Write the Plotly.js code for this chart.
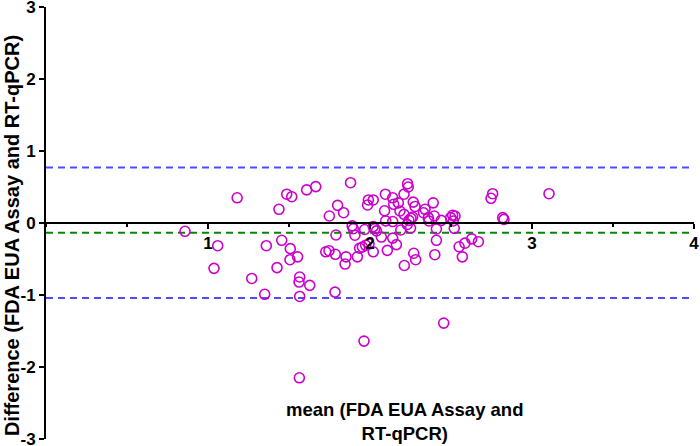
<!DOCTYPE html>
<html>
<head>
<meta charset="utf-8">
<script src="https://cdn.plot.ly/plotly-3.0.1.min.js"></script>
<style>
  html, body { margin: 0; padding: 0; background: #ffffff; }
  #chart { width: 700px; height: 446px; }
</style>
</head>
<body>
<div id="chart"></div>
<script>
// Bland-Altman agreement: mean of the two methods vs. their difference
const meanVals = [
  0.858, 1.18, 1.06, 1.037, 1.27, 1.35, 1.438, 1.486, 1.517, 1.609,
  1.665, 1.36, 1.455, 1.508, 1.506, 1.553, 1.426, 1.566, 1.562, 1.628,
  1.566, 1.784, 1.749, 1.80, 1.837, 1.88, 1.79, 1.727, 1.747, 1.786,
  1.852, 1.846, 1.89, 2.455, 1.963, 1.564, 1.907, 1.922, 1.936, 1.953,
  1.973, 1.994, 1.967, 1.985, 1.99, 2.02, 2.02, 2.03, 2.04, 2.02,
  2.07, 2.09, 2.095, 2.097, 2.107, 2.14, 2.146, 2.175, 2.14, 2.14,
  2.163, 2.185, 2.19, 2.21, 2.21, 2.232, 2.236, 2.23, 2.24, 2.253,
  2.263, 2.267, 2.278, 2.212, 2.27, 2.282, 2.33, 2.34, 2.36, 2.364,
  2.39, 2.397, 2.41, 2.44, 2.41, 2.40, 2.498, 2.51, 2.525, 2.514,
  2.52, 2.55, 2.57, 2.586, 2.628, 2.669, 2.747, 2.757, 2.819, 2.827,
  3.105, 1.897, 2.25
];
const diffVals = [
  -0.115, 0.35, -0.315, -0.63, -0.77, -0.99, 0.19, 0.40, 0.365, 0.46,
  0.505, -0.315, -0.24, -0.356, -0.51, -0.47, -0.62, -0.75, -0.82, -0.866,
  -1.02, -0.96, 0.097, 0.245, 0.143, 0.56, -0.167, -0.40, -0.385, -0.435,
  -0.47, -0.57, -0.04, -1.39, -1.64, -2.15, -0.17, -0.47, -0.35, -0.333,
  -0.31, -0.29, -0.09, 0.25, 0.32, 0.32, -0.05, -0.08, -0.11, -0.40,
  -0.195, 0.17, 0.40, 0.03, -0.38, 0.35, 0.26, 0.28, 0.02, -0.21,
  -0.30, 0.167, -0.097, 0.40, 0.12, 0.546, 0.50, -0.02, 0.037, 0.065,
  0.083, 0.29, 0.23, -0.59, -0.42, -0.51, 0.143, 0.19, 0.074, 0.028,
  0.28, 0.097, -0.083, 0.037, -0.24, -0.44, 0.074, 0.107, 0.097, 0.028,
  -0.074, -0.33, -0.47, -0.28, -0.22, -0.26, 0.343, 0.407, 0.074, 0.05,
  0.407, -0.08, -0.07
];

// Bias and 95% limits of agreement
const bias = -0.134;
const upperLoA = 0.77;
const lowerLoA = -1.04;

const xTickVals = [1, 2, 3, 4];
const yTickVals = [-3, -2, -1, 0, 1, 2, 3];

const xTitle = 'mean (FDA EUA Assay and<br>RT-qPCR)';
const yTitle = 'Difference (FDA EUA Assay and RT-qPCR)';

const fontFamily = '"Liberation Sans", Arial, Helvetica, sans-serif';

const points = {
  type: 'scatter',
  mode: 'markers',
  x: meanVals,
  y: diffVals,
  marker: {
    symbol: 'circle-open',
    size: 10,
    color: '#CC00CC',
    line: { width: 1.6, color: '#CC00CC' }
  },
  hoverinfo: 'x+y',
  showlegend: false
};

function hLine(yVal, color) {
  return {
    type: 'line', xref: 'paper', yref: 'y',
    x0: 0, x1: 1, y0: yVal, y1: yVal,
    layer: 'below',
    line: { color: color, width: 2, dash: '7px,5px' }
  };
}

const tickFont = { family: fontFamily, size: 17, weight: 'bold', color: '#000000' };

const layout = {
  width: 700,
  height: 446,
  margin: { l: 46, r: 6, t: 7, b: 7 },
  paper_bgcolor: '#ffffff',
  plot_bgcolor: '#ffffff',
  showlegend: false,
  font: { family: fontFamily, color: '#000000' },
  xaxis: {
    range: [0, 4],
    anchor: 'free',
    position: 0.5,
    showgrid: false,
    zeroline: false,
    showline: true,
    linecolor: '#000000',
    linewidth: 2,
    ticks: 'outside',
    ticklen: 5,
    tickwidth: 2,
    tickcolor: '#000000',
    tickvals: xTickVals,
    ticktext: xTickVals.map(String),
    ticklabeloverflow: 'allow',
    tickfont: tickFont,
    minor: { dtick: 0.5, ticks: 'outside', ticklen: 3, tickwidth: 2, tickcolor: '#000000', showgrid: false }
  },
  yaxis: {
    range: [-3, 3],
    showgrid: false,
    zeroline: false,
    showline: true,
    linecolor: '#000000',
    linewidth: 2,
    ticks: 'outside',
    ticklen: 5,
    tickwidth: 2,
    tickcolor: '#000000',
    tickvals: yTickVals,
    ticktext: yTickVals.map(String),
    ticklabeloverflow: 'allow',
    tickfont: tickFont
  },
  shapes: [
    hLine(upperLoA, '#4D4DFF'),
    hLine(lowerLoA, '#4D4DFF'),
    hLine(bias, '#078707')
  ],
  annotations: [
    {
      text: xTitle,
      xref: 'x', yref: 'y',
      x: 2.21, y: -2.75,
      xanchor: 'center', yanchor: 'middle',
      showarrow: false,
      align: 'center',
      font: { family: fontFamily, size: 18.5, weight: 'bold', color: '#000000' }
    },
    {
      text: yTitle,
      xref: 'paper', yref: 'paper',
      x: -0.0525, y: 0.472,
      xanchor: 'center', yanchor: 'middle',
      textangle: -90,
      showarrow: false,
      font: { family: fontFamily, size: 20, weight: 'bold', color: '#000000' }
    }
  ]
};

Plotly.newPlot('chart', [points], layout, { staticPlot: true, displayModeBar: false });
</script>
</body>
</html>
